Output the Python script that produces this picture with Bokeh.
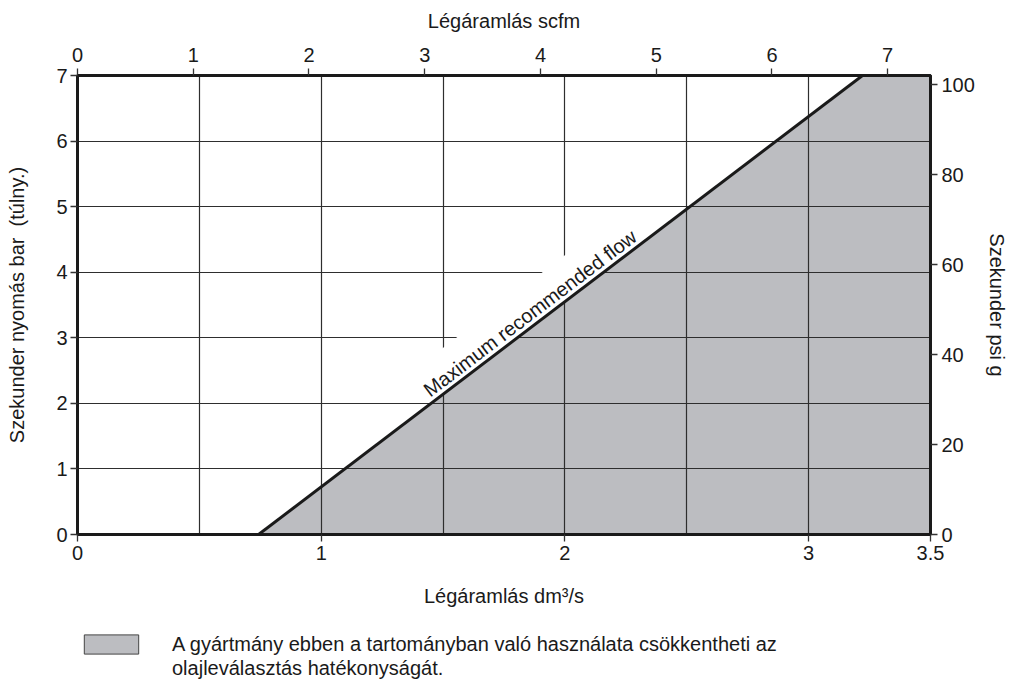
import math
from bokeh.plotting import figure
from bokeh.layouts import column
from bokeh.models import Range1d, LinearAxis, FixedTicker, Legend, LegendItem
from bokeh.embed import file_html
from bokeh.resources import INLINE
from bokeh.core.properties import value

# ---------------- data ----------------
flow_dm3s_range = [0.0, 3.5]          # bottom axis, dm³/s
pressure_bar_range = [0.0, 7.0]       # left axis, bar
flow_scfm_range = [0.0, 7.37]         # top axis, scfm
pressure_psi_range = [0.0, 102.0]     # right axis, psi g

max_flow_dm3s = [0.743, 3.221]        # "Maximum recommended flow" line
max_flow_bar = [0.0, 7.0]

bottom_ticks = [0, 1, 2, 3, 3.5]
bottom_tick_labels = ["0", "1", "2", "3", "3.5"]
left_ticks = [0, 1, 2, 3, 4, 5, 6, 7]
top_ticks = [0, 1, 2, 3, 4, 5, 6, 7]
right_ticks = [0, 20, 40, 60, 80, 100]
grid_x = [0.5, 1, 1.5, 2, 2.5, 3]
grid_y = [1, 2, 3, 4, 5, 6]

line_label = "Maximum recommended flow"
legend_lines = ["A gyártmány ebben a tartományban való használata csökkentheti az",
                "olajleválasztás hatékonyságát."]
x_title = "Légáramlás dm³/s"
top_title = "Légáramlás scfm"
left_title = "Szekunder nyomás bar \u00a0(túlny.)"
right_title = "Szekunder psi g"

# ---------------- figure ----------------
FONT = "Liberation Sans"
TXT = "#1a1a1a"
GRAY = "#bcbdc1"
BL, BR, BT, BB = 77, 81, 75, 90
FW, FH = 853, 459

p = figure(frame_width=FW, frame_height=FH,
           x_range=Range1d(*flow_dm3s_range), y_range=Range1d(*pressure_bar_range),
           output_backend="svg", toolbar_location=None,
           min_border_left=BL, min_border_right=BR, min_border_top=BT, min_border_bottom=BB)
p.extra_x_ranges = {"scfm": Range1d(*flow_scfm_range)}
p.extra_y_ranges = {"psi": Range1d(*pressure_psi_range)}
p.background_fill_color = "white"
p.border_fill_color = "white"
p.outline_line_color = TXT
p.outline_line_width = 3

# grid
p.xgrid.ticker = FixedTicker(ticks=grid_x)
p.ygrid.ticker = FixedTicker(ticks=grid_y)
for g in (p.xgrid[0], p.ygrid[0]):
    g.grid_line_color = "#2e2e2e"
    g.grid_line_width = 1.2
    g.grid_line_alpha = 1.0

# shaded region (drawn under the grid)
region_x = [max_flow_dm3s[0], max_flow_dm3s[1], flow_dm3s_range[1], flow_dm3s_range[1]]
region_y = [max_flow_bar[0], max_flow_bar[1], pressure_bar_range[1], pressure_bar_range[0]]
p.patch(region_x, region_y, fill_color=GRAY, line_color="#444444", line_width=1, level="image")

# geometry of the line in screen pixels
px_x = FW / (flow_dm3s_range[1] - flow_dm3s_range[0])
px_y = FH / (pressure_bar_range[1] - pressure_bar_range[0])
dx_pix = (max_flow_dm3s[1] - max_flow_dm3s[0]) * px_x
dy_pix = (max_flow_bar[1] - max_flow_bar[0]) * px_y
theta = math.atan2(dy_pix, dx_pix)
ux, uy = math.cos(theta) / px_x, math.sin(theta) / px_y      # along the line, per pixel
nx, ny = -math.sin(theta) / px_x, math.cos(theta) / px_y     # perpendicular (up-left), per pixel

xa = 1.46
ya = max_flow_bar[0] + (xa - max_flow_dm3s[0]) * (max_flow_bar[1] - max_flow_bar[0]) / (max_flow_dm3s[1] - max_flow_dm3s[0])

# white band behind the label (breaks the grid lines, as in the original)
s0, s1, h0, h1 = 0.0, 262.0, 0.0, 37.0
mask_x = [xa + s0 * ux + h0 * nx, xa + s1 * ux + h0 * nx, xa + s1 * ux + h1 * nx, xa + s0 * ux + h1 * nx]
mask_y = [ya + s0 * uy + h0 * ny, ya + s1 * uy + h0 * ny, ya + s1 * uy + h1 * ny, ya + s0 * uy + h1 * ny]
p.patch(mask_x, mask_y, fill_color="white", line_color=None)

# label along the line
d = 12.0
p.text(x=[xa + d * nx], y=[ya + d * ny], text=[line_label], angle=theta,
       text_font=value(FONT), text_font_size="20px", text_color=TXT,
       text_align="left", text_baseline="alphabetic")

# the limit line
p.line(max_flow_dm3s, max_flow_bar, line_color=TXT, line_width=3)

# ---------------- axes ----------------
def style(ax, title, standoff, label_standoff):
    ax.axis_label = title
    ax.axis_label_text_font = FONT
    ax.axis_label_text_font_size = "20px"
    ax.axis_label_text_font_style = "normal"
    ax.axis_label_text_color = TXT
    ax.axis_label_standoff = label_standoff
    ax.major_label_text_font = FONT
    ax.major_label_text_font_size = "20px"
    ax.major_label_text_color = TXT
    ax.major_label_standoff = standoff
    ax.axis_line_color = TXT
    ax.axis_line_width = 3
    ax.major_tick_line_color = "#333333"
    ax.major_tick_line_width = 1.3
    ax.major_tick_in = 0
    ax.major_tick_out = 7
    ax.minor_tick_line_color = None

bx = p.xaxis[0]
bx.ticker = FixedTicker(ticks=bottom_ticks)
bx.major_label_overrides = {t: s for t, s in zip(bottom_ticks, bottom_tick_labels)}
style(bx, x_title, 4, 22)

ly = p.yaxis[0]
ly.ticker = FixedTicker(ticks=left_ticks)
style(ly, left_title, 3, 25)

tx_axis = LinearAxis(x_range_name="scfm", ticker=FixedTicker(ticks=top_ticks))
style(tx_axis, top_title, 7, 13)
p.add_layout(tx_axis, "above")

ry_axis = LinearAxis(y_range_name="psi", ticker=FixedTicker(ticks=right_ticks))
style(ry_axis, right_title, 4, 8)
p.add_layout(ry_axis, "right")

# ---------------- legend strip (separate small figure below) ----------------
LEG_W = BL + FW + BR
LEG_H = 681 - (BT + FH + BB)
# ranges chosen so the swatch's own shape stays out of view; only its legend entry shows
q = figure(width=LEG_W, height=LEG_H, x_range=Range1d(10, 11), y_range=Range1d(10, 11),
           x_axis_location=None, y_axis_location=None,
           output_backend="svg", toolbar_location=None,
           min_border_left=0, min_border_right=0, min_border_top=0, min_border_bottom=0)
q.outline_line_color = None
q.background_fill_color = "white"
q.border_fill_color = "white"
q.grid.visible = False

swatch = q.patch(region_x, region_y, fill_color=GRAY, line_color="#444444", line_width=1)
ghost = q.patch(region_x, region_y, fill_alpha=0, line_alpha=0)

legend = Legend(items=[LegendItem(label=legend_lines[0], renderers=[swatch]),
                       LegendItem(label=legend_lines[1], renderers=[ghost])],
                location=(0, 1), orientation="vertical",
                glyph_width=68, glyph_height=24, label_standoff=27,
                padding=0, margin=0, spacing=0,
                border_line_color=None, background_fill_alpha=0,
                label_text_font=FONT, label_text_font_size="20px",
                label_text_color=TXT)
q.add_layout(legend, "center")

layout = column(p, q, spacing=0)
open("out.html", "w").write(file_html(layout, INLINE))
